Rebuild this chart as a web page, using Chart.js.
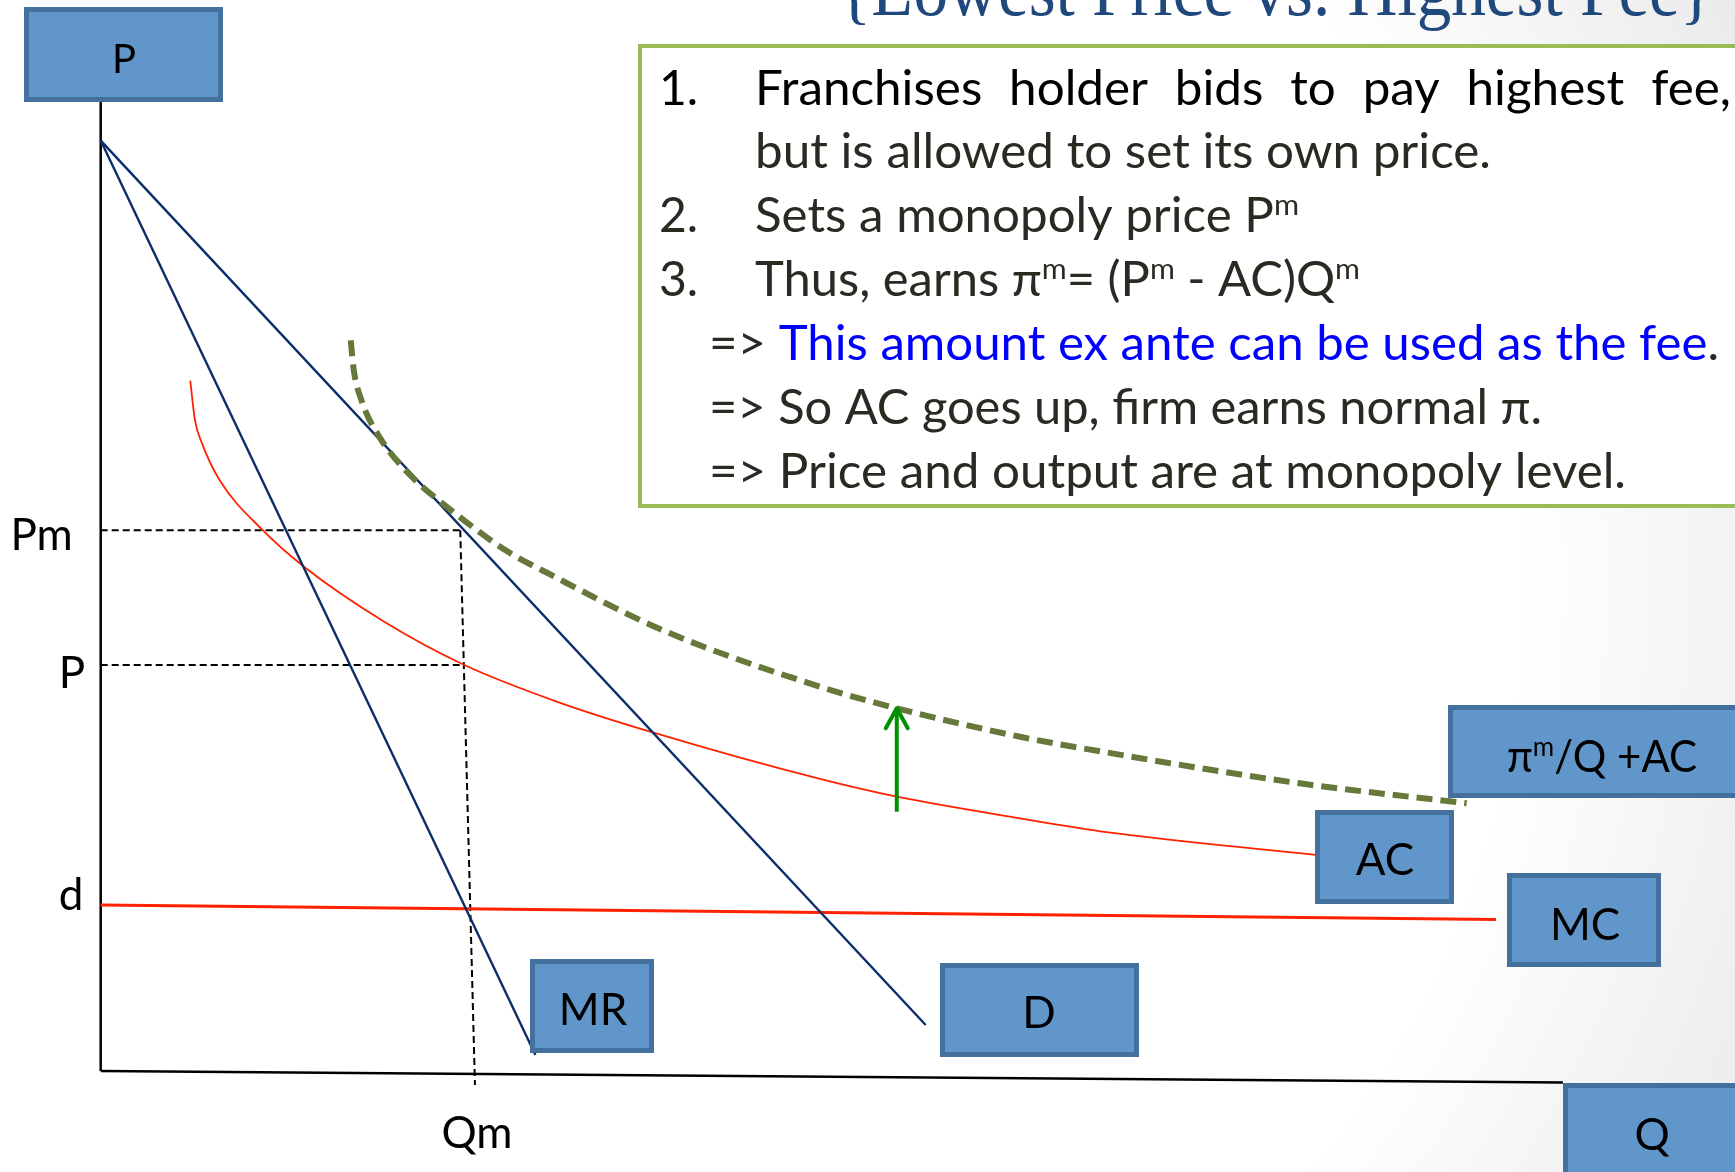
<!DOCTYPE html>
<html>
<head>
<meta charset="utf-8">
<script src="https://cdn.jsdelivr.net/npm/chart.js@4/dist/chart.umd.min.js"></script>
<style>
  html, body { margin: 0; padding: 0; background: #ffffff; overflow: hidden; }
  canvas { display: block; }
</style>
</head>
<body>
<canvas id="chart" width="1735" height="1172"></canvas>
<script>
// ---- Economic data (quantity on x, price on y) ----
const demandQ = [0, 50.48];
const demandP = [96.0, 4.75];
const mrQ = [0, 26.6];
const mrP = [96.0, 1.65];
const mcQ = [0, 85.38];
const mcP = [17.12, 15.63];
const acQ = [5.48, 5.77, 6.18, 7.28, 9.90, 12.42, 17.35, 22.25, 28.03, 33.78, 44.01, 48.71, 56.25, 61.54, 74.30];
const acP = [71.23, 67.12, 64.84, 60.96, 55.82, 52.05, 46.35, 41.89, 38.04, 34.93, 30.13, 28.30, 26.07, 24.65, 22.29];
const feeQ = [15.30, 15.46, 15.98, 17.12, 18.78, 21.68, 24.80, 27.28, 34.46, 44.01, 48.71, 56.25, 61.54, 73.38, 83.58];
const feeP = [75.40, 72.60, 69.09, 65.25, 61.75, 57.55, 53.70, 51.43, 45.43, 39.65, 37.42, 34.49, 32.87, 29.68, 27.62];

// Monopoly quantity and the two price levels
const qmTop = 22.0;
const qmBottom = 22.9;
const pmLevel = 55.8;
const pLevel = 41.9;
const pLevelEnd = 22.27;

// Axes
const priceAxisQ = [0, 0];
const priceAxisP = [0, 100];
const qtyAxisQ = [0, 89.47];
const qtyAxisP = [0, -1.19];

// Fee shift arrow (from below AC up to the shifted curve)
const arrowQ = [48.71, 48.71];
const arrowP = [26.75, 37.42];

// Tick labels
const priceTickLabels = ['Pm', 'P', 'd'];
const priceTickValues = [pmLevel, pLevel, mcP[0]];
const qtyTickLabels = ['Qm'];
const qtyTickValues = [qmBottom];

// Curve / axis name tags
const tagTexts = ['P', 'MR', 'D', 'AC', 'MC', 'Q'];
const feeTag = [['π'], ['m', 'sup'], ['/Q +AC']];

// Title and notes
const titleText = '{Lowest Price vs. Highest Fee}';
const noteNumbers = ['1.', '', '2.', '3.', '', '', ''];
const noteLines = [
  [['Franchises holder bids to pay highest fee,']],
  [['but is allowed to set its own price.']],
  [['Sets a monopoly price P'], ['m', 'sup']],
  [['Thus, earns π'], ['m', 'sup'], ['= (P'], ['m', 'sup'], [' - AC)Q'], ['m', 'sup']],
  [['=> '], ['This amount ex ante can be used as the fee', 'blue'], ['.']],
  [['=> So AC goes up, firm earns normal π.']],
  [['=> Price and output are at monopoly level.']]
];

const pts = (xs, ys) => xs.map((x, i) => ({ x: x, y: ys[i] }));

// ---- Styling / layout ----
const SANS = 'Lato, "Open Sans", sans-serif';
const BOX_FILL = '#6096c9';
const BOX_EDGE = '#44709e';
const NAVY = '#0c2d6b';
const RED = '#ff2200';

// tag boxes: outer edges in canvas pixels, label anchor (centre x, baseline)
const tagBoxes = [
  { x0: 24, y0: 7, x1: 223, y1: 102, cx: 124, by: 73, size: 40 },
  { x0: 530, y0: 959, x1: 654, y1: 1053, cx: 593, by: 1025, size: 44 },
  { x0: 940, y0: 963, x1: 1139, y1: 1057, cx: 1039, by: 1028, size: 44 },
  { x0: 1315, y0: 810, x1: 1454, y1: 904, cx: 1385, by: 875, size: 44 },
  { x0: 1507, y0: 873, x1: 1661, y1: 967, cx: 1585, by: 940, size: 44 },
  { x0: 1563, y0: 1083, x1: 1760, y1: 1200, cx: 1652, by: 1150, size: 44 }
];
const feeBox = { x0: 1448, y0: 705, x1: 1760, y1: 798, left: 1507, right: 1697, by: 772, size: 44 };

const noteLayout = {
  numX: 659, textX: 755, arrowX: 709,
  base: [105, 168, 232, 296, 360, 424, 488],
  endX: [1731, 1491, 1299, 1360, 1719, 1542, 1626],
  size: 48
};

function segsWidth(ctx, segs, size, family) {
  let w = 0;
  for (const s of segs) {
    const sup = s[1] === 'sup';
    ctx.font = (sup ? size * 0.62 : size) + 'px ' + family;
    w += ctx.measureText(s[0]).width;
  }
  return w;
}

function drawSegs(ctx, segs, x, base, size, family, color, fitW) {
  const natural = segsWidth(ctx, segs, size, family);
  const k = fitW ? fitW / natural : 1;
  ctx.save();
  ctx.translate(x, base);
  ctx.scale(k, 1);
  ctx.textAlign = 'left';
  ctx.textBaseline = 'alphabetic';
  let cx = 0;
  for (const s of segs) {
    const sup = s[1] === 'sup';
    ctx.font = (sup ? size * 0.62 : size) + 'px ' + family;
    ctx.fillStyle = s[1] === 'blue' ? '#0000ff' : color;
    ctx.fillText(s[0], cx, sup ? -size * 0.36 : 0);
    cx += ctx.measureText(s[0]).width;
  }
  ctx.restore();
  return k;
}

function drawBox(ctx, b) {
  const lw = 5;
  ctx.save();
  ctx.fillStyle = BOX_FILL;
  ctx.strokeStyle = BOX_EDGE;
  ctx.lineWidth = lw;
  ctx.beginPath();
  ctx.rect(b.x0 + lw / 2, b.y0 + lw / 2, b.x1 - b.x0 - lw, b.y1 - b.y0 - lw);
  ctx.fill();
  ctx.stroke();
  ctx.restore();
}

const backdrop = {
  id: 'backdrop',
  beforeDraw(chart) {
    const ctx = chart.ctx;
    ctx.save();
    ctx.fillStyle = '#ffffff';
    ctx.fillRect(0, 0, chart.width, chart.height);
    const g = ctx.createRadialGradient(620, 586, 0, 620, 586, 1250);
    g.addColorStop(0.0, 'rgba(255,255,255,1)');
    g.addColorStop(0.72, 'rgba(255,255,255,1)');
    g.addColorStop(1.0, 'rgba(235,235,235,1)');
    ctx.fillStyle = g;
    ctx.fillRect(0, 0, chart.width, chart.height);
    ctx.restore();
  }
};

const annotations = {
  id: 'annotations',
  afterDatasetsDraw(chart) {
    const ctx = chart.ctx;
    const xs = chart.scales.x, ys = chart.scales.y;

    // arrowhead on the fee-shift arrow
    const meta = chart.getDatasetMeta(chart.data.datasets.findIndex(d => d.label === 'shift'));
    const tip = meta.data[meta.data.length - 1];
    ctx.save();
    ctx.strokeStyle = '#009000';
    ctx.lineWidth = 4;
    ctx.lineCap = 'round';
    ctx.lineJoin = 'round';
    ctx.beginPath();
    ctx.moveTo(tip.x - 11, tip.y + 20);
    ctx.lineTo(tip.x, tip.y);
    ctx.lineTo(tip.x + 11, tip.y + 20);
    ctx.stroke();
    ctx.restore();

    // title (only its lower part falls on the canvas)
    ctx.save();
    ctx.fillStyle = '#1f497d';
    ctx.textBaseline = 'alphabetic';
    ctx.font = '76px "Liberation Serif", serif';
    const tw = ctx.measureText(titleText).width;
    ctx.translate(838, 15);
    ctx.scale(875 / tw, 1);
    ctx.fillText(titleText, 0, 0);
    ctx.restore();

    // notes panel
    ctx.save();
    ctx.fillStyle = '#ffffff';
    ctx.fillRect(640, 46, 1200, 460);
    ctx.strokeStyle = '#9bbb59';
    ctx.lineWidth = 4;
    ctx.strokeRect(640, 46, 1200, 460);
    ctx.restore();

    const L = noteLayout;
    const darkText = '#2b2922';
    // reference horizontal scale from the second line
    const kRef = (L.endX[1] - L.textX) / segsWidth(ctx, noteLines[1], L.size, SANS);
    noteLines.forEach((segs, i) => {
      const color = i === 0 ? '#000000' : darkText;
      if (noteNumbers[i]) {
        drawSegs(ctx, [[noteNumbers[i]]], L.numX, L.base[i], L.size, SANS, color, 0);
      }
      const startX = segs[0][0].startsWith('=>') ? L.arrowX : L.textX;
      if (i === 0) {
        // justified line
        const words = segs[0][0].split(' ');
        ctx.font = L.size + 'px ' + SANS;
        const widths = words.map(w => ctx.measureText(w).width * kRef);
        const total = widths.reduce((a, b) => a + b, 0);
        const gap = (L.endX[i] - startX - total) / (words.length - 1);
        let x = startX;
        words.forEach((w, j) => {
          ctx.save();
          ctx.translate(x, L.base[i]);
          ctx.scale(kRef, 1);
          ctx.fillStyle = color;
          ctx.textBaseline = 'alphabetic';
          ctx.fillText(w, 0, 0);
          ctx.restore();
          x += widths[j] + gap;
        });
      } else {
        drawSegs(ctx, segs, startX, L.base[i], L.size, SANS, color, L.endX[i] - startX);
      }
    });

    // name tags
    tagBoxes.forEach((b, i) => {
      drawBox(ctx, b);
      ctx.save();
      ctx.fillStyle = '#000000';
      ctx.font = b.size + 'px ' + SANS;
      ctx.textAlign = 'center';
      ctx.textBaseline = 'alphabetic';
      ctx.fillText(tagTexts[i], b.cx, b.by);
      ctx.restore();
    });
    drawBox(ctx, feeBox);
    drawSegs(ctx, feeTag, feeBox.left, feeBox.by, feeBox.size, SANS, '#000000', feeBox.right - feeBox.left);

    // axis tick labels
    const priceLabelX = [41.5, 72, 71];
    const priceLabelDy = [20, 23, 5];
    ctx.save();
    ctx.fillStyle = '#000000';
    ctx.font = '44px ' + SANS;
    ctx.textAlign = 'center';
    ctx.textBaseline = 'alphabetic';
    priceTickLabels.forEach((t, i) => {
      ctx.fillText(t, priceLabelX[i], ys.getPixelForValue(priceTickValues[i]) + priceLabelDy[i]);
    });
    qtyTickLabels.forEach((t, i) => {
      ctx.fillText(t, xs.getPixelForValue(qtyTickValues[i]) + 2, ys.getPixelForValue(0) + 77);
    });
    ctx.restore();
  }
};

const line = (label, data, color, width, extra) => Object.assign({
  label: label, data: data, showLine: true, borderColor: color, backgroundColor: color,
  borderWidth: width, pointRadius: 0, pointHoverRadius: 0, fill: false, clip: false, tension: 0
}, extra || {});

new Chart(document.getElementById('chart'), {
  type: 'scatter',
  data: {
    datasets: [
      line('shift', pts(arrowQ, arrowP), '#009000', 4),
      line('fee + AC', pts(feeQ, feeP), '#66783a', 6, { borderDash: [16, 8], cubicInterpolationMode: 'monotone' }),
      line('D', pts(demandQ, demandP), NAVY, 2.4),
      line('MR', pts(mrQ, mrP), NAVY, 2.4),
      line('AC', pts(acQ, acP), RED, 1.8, { cubicInterpolationMode: 'monotone' }),
      line('MC', pts(mcQ, mcP), RED, 3),
      line('Pm level', pts([0, qmTop], [pmLevel, pmLevel]), '#000000', 2, { borderDash: [7, 4] }),
      line('P level', pts([0, pLevelEnd], [pLevel, pLevel]), '#000000', 2, { borderDash: [7, 4] }),
      line('Qm', pts([qmTop, qmBottom], [pmLevel, -1.44]), '#000000', 2, { borderDash: [7, 4] }),
      line('price axis', pts(priceAxisQ, priceAxisP), '#000000', 2.5),
      line('quantity axis', pts(qtyAxisQ, qtyAxisP), '#000000', 2.5)
    ]
  },
  options: {
    responsive: false,
    animation: false,
    devicePixelRatio: 1,
    layout: { padding: { left: 100.7, right: 0, top: 101.8, bottom: 101 } },
    plugins: { legend: { display: false }, tooltip: { enabled: false } },
    events: [],
    scales: {
      x: { type: 'linear', min: 0, max: 100, display: false },
      y: { type: 'linear', min: 0, max: 100, display: false }
    }
  },
  plugins: [backdrop, annotations]
});
</script>
</body>
</html>
